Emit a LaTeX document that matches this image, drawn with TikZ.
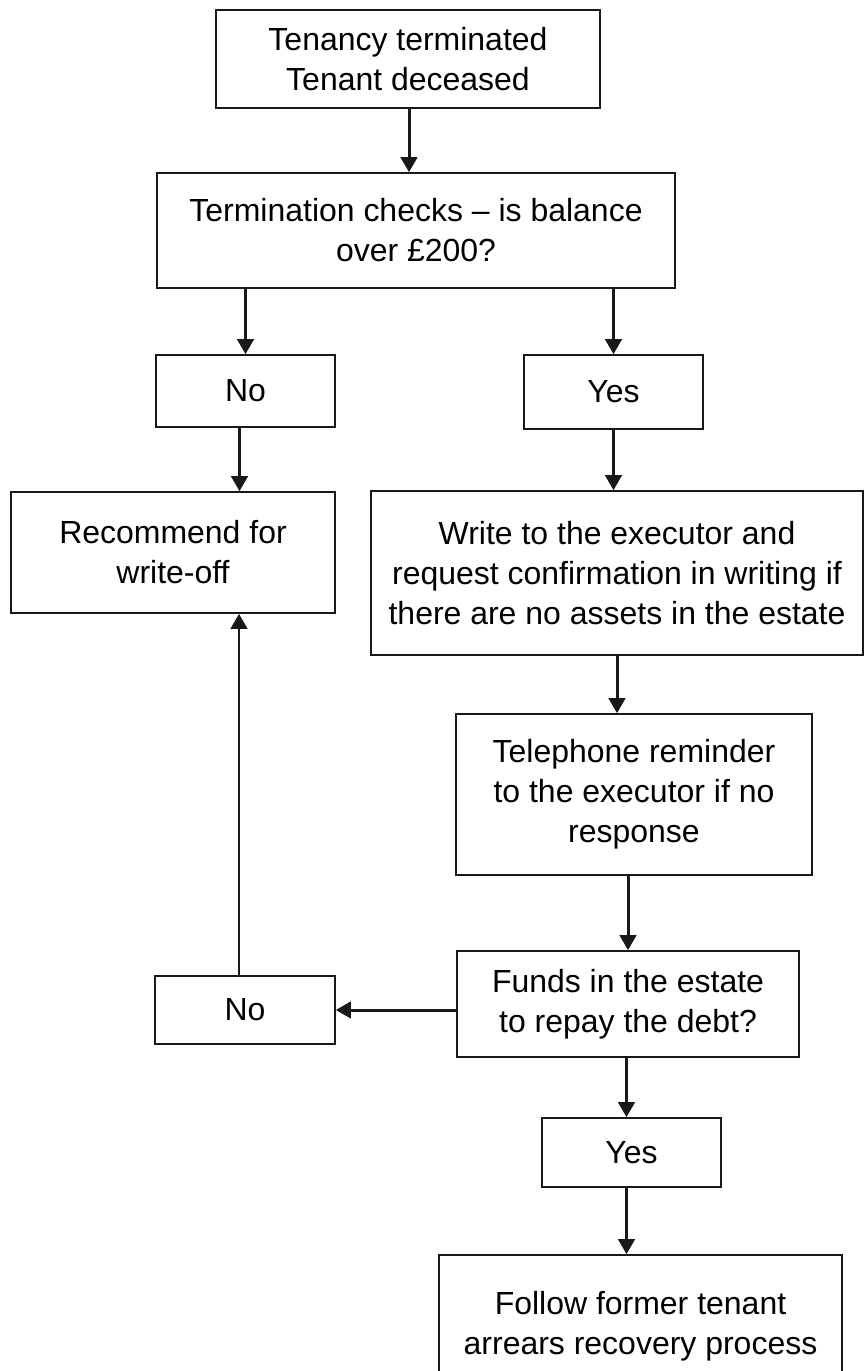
\documentclass[tikz,border=0pt]{standalone}
\usepackage{fontspec}
\setmainfont{Liberation Sans}
\usepackage{tikz}
\usetikzlibrary{arrows.meta, calc}
\definecolor{mainBlack}{gray}{0.1}
\newdimen\px
\px=0.02cm

\begin{document}
\begin{tikzpicture}[x=0.02cm, y=-0.02cm, >={Triangle[length=8.6pt, width=9.4pt]},
    box/.style={draw=mainBlack, line width=0.9pt, align=center, inner sep=0pt,
        font=\fontsize{18.2}{22.8}\selectfont},
    flow/.style={->, line width=1.7pt, mainBlack}]
    \useasboundingbox (0,0) rectangle (866,1371);
    \clip (0,0) rectangle (866,1371);

    % boxes
    \node[box, minimum width=384\px, minimum height=98\px] (term) at (408,59) {Tenancy terminated\\Tenant deceased};
    \node[box, minimum width=518\px, minimum height=115\px] (check) at (416,230.5) {Termination checks -- is balance\\over £200?};
    \node[box, minimum width=179\px, minimum height=72\px] (noA) at (245.5,391) {No};
    \node[box, minimum width=179\px, minimum height=74\px] (yesA) at (613.5,392) {Yes};
    \node[box, minimum width=324\px, minimum height=121\px] (recom) at (173,552.5) {Recommend for\\write-off};
    \node[box, minimum width=492\px, minimum height=164\px] (write) at (617,573) {Write to the executor and\\request confirmation in writing if\\there are no assets in the estate};
    \node[box, minimum width=356\px, minimum height=161\px] (phone) at (634,794.5) {Telephone reminder\\to the executor if no\\response};
    \node[box, minimum width=342\px, minimum height=106\px] (funds) at (628,1004) {Funds in the estate\\to repay the debt?};
    \node[box, minimum width=180\px, minimum height=68\px] (noB) at (245,1010) {No};
    \node[box, minimum width=179\px, minimum height=69\px] (yesB) at (631.5,1152.5) {Yes};
    \node[box, minimum width=403\px, minimum height=142\px] (follow) at (640.5,1326) {Follow former tenant\\arrears recovery process};

    % connectors
    \draw[flow] ([xshift=1\px]term.south) -- ([xshift=1\px]term.south |- check.north);
    \draw[flow] (noA.north |- check.south) -- (noA.north);
    \draw[flow] (yesA.north |- check.south) -- (yesA.north);
    \draw[flow] ([xshift=-6\px]noA.south) -- ([xshift=-6\px]noA.south |- recom.north);
    \draw[flow] (yesA.south) -- (yesA.south |- write.north);
    \draw[flow] (write.south) -- (write.south |- phone.north);
    \draw[flow] (funds.north |- phone.south) -- (funds.north);
    \draw[flow] (noB.east -| funds.west) -- (noB.east);
    \draw[flow] ([xshift=-6\px]noB.north) -- ([xshift=-6\px]noB.north |- recom.south);
    \draw[flow] ([xshift=-5\px]yesB.north |- funds.south) -- ([xshift=-5\px]yesB.north);
    \draw[flow] ([xshift=-5\px]yesB.south) -- ([xshift=-5\px]yesB.south |- follow.north);
\end{tikzpicture}
\end{document}
